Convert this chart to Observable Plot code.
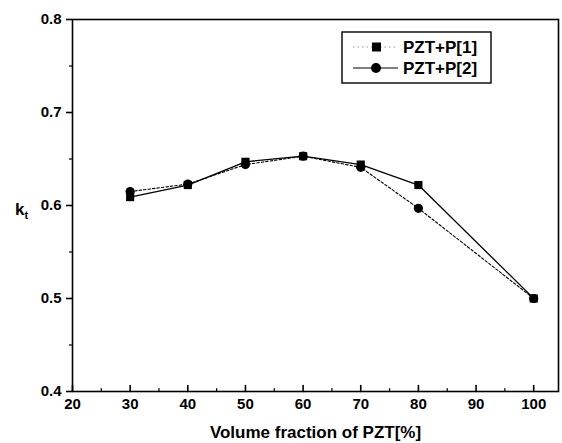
<!DOCTYPE html>
<html>
<head>
<meta charset="utf-8">
<script src="https://cdn.jsdelivr.net/npm/d3@7"></script>
<script src="https://cdn.jsdelivr.net/npm/@observablehq/plot@0.6"></script>
<style>
  body { margin: 0; background: #fff; }
  #wrap { position: relative; width: 562px; height: 443px; font-family: "Liberation Sans", Arial, sans-serif; }
  #kt { position: absolute; left: 15px; top: 200px; font-size: 17px; font-weight: bold; }
  #kt sub { font-size: 11px; }
  #legend { position: absolute; left: 0; top: 0; }
</style>
</head>
<body>
<div id="wrap">
  <div id="kt">k<sub>t</sub></div>
</div>
<script>
const fractions = [30, 40, 50, 60, 70, 80, 100];
const seriesP1 = [0.609, 0.622, 0.647, 0.653, 0.644, 0.622, 0.500]; // squares
const seriesP2 = [0.615, 0.623, 0.644, 0.653, 0.641, 0.597, 0.500]; // circles
const seriesNames = ["PZT+P[1]", "PZT+P[2]"];
const xMajorTicks = [20, 30, 40, 50, 60, 70, 80, 90, 100];
const xMinorTicks = [25, 35, 45, 55, 65, 75, 85, 95];
const yMajorTicks = [0.4, 0.5, 0.6, 0.7, 0.8];
const yMinorTicks = [0.45, 0.55, 0.65, 0.75];

const d1 = fractions.map((x, i) => ({x, y: seriesP1[i]}));
const d2 = fractions.map((x, i) => ({x, y: seriesP2[i]}));

const tickShape = { draw(context, l) { context.moveTo(0, 0); context.lineTo(0, -l); } };

const chart = Plot.plot({
  width: 562,
  height: 443,
  marginLeft: 72,
  marginRight: 4,
  marginTop: 19,
  marginBottom: 52,
  x: { domain: [20, 104.3] },
  y: { domain: [0.4, 0.8] },
  style: { fontFamily: "'Liberation Sans', Arial, sans-serif", fontSize: "15px", fontWeight: "bold", color: "#000", background: "#fff" },
  marks: [
    Plot.frame({ stroke: "#000", strokeWidth: 1.6 }),
    Plot.axisY(yMajorTicks, { tickSize: 6, tickPadding: 5, tickFormat: d3.format(".1f"), label: null, strokeWidth: 1.6, fontSize: 15 }),
    Plot.axisY(yMinorTicks, { tickSize: 3, tickFormat: () => "", label: null, strokeWidth: 1.2 }),
    Plot.axisX(xMajorTicks, { tickSize: 0, tickPadding: 7, tickFormat: d => String(d), label: null, fontSize: 15 }),
    Plot.axisX({ ticks: [], tickSize: 0, label: "Volume fraction of PZT[%]", labelAnchor: "center", labelArrow: "none", labelOffset: 46, fontSize: 17 }),
    Plot.vector(xMajorTicks, { x: d => d, frameAnchor: "bottom", length: 6, rotate: 0, anchor: "start", shape: tickShape, stroke: "#000", strokeWidth: 1.6 }),
    Plot.vector(xMinorTicks, { x: d => d, frameAnchor: "bottom", length: 3, rotate: 0, anchor: "start", shape: tickShape, stroke: "#000", strokeWidth: 1.2 }),
    Plot.line(d2, { x: "x", y: "y", stroke: "#000", strokeWidth: 1.1, strokeDasharray: "2.5,2" }),
    Plot.line(d1, { x: "x", y: "y", stroke: "#000", strokeWidth: 1.3 }),
    Plot.dot(d2, { x: "x", y: "y", symbol: "circle", r: 4.6, fill: "#000" }),
    Plot.dot(d1, { x: "x", y: "y", symbol: "square", r: 4.6, fill: "#000" })
  ]
});
document.getElementById("wrap").appendChild(chart);

// legend
const lg = d3.create("svg").attr("id", "legend").attr("width", 562).attr("height", 443)
  .style("position", "absolute").style("left", "0px").style("top", "0px");
lg.append("rect").attr("x", 342).attr("y", 32).attr("width", 149).attr("height", 51)
  .attr("fill", "#fff").attr("stroke", "#000").attr("stroke-width", 1.4);
const rows = [
  { y: 47, name: seriesNames[0], dash: "1.5,3", sym: "square" },
  { y: 68, name: seriesNames[1], dash: null, sym: "circle" }
];
rows.forEach(r => {
  const ln = lg.append("line").attr("x1", 353).attr("x2", 398).attr("y1", r.y).attr("y2", r.y)
    .attr("stroke", r.dash ? "#999" : "#000").attr("stroke-width", 1.1);
  if (r.dash) ln.attr("stroke-dasharray", r.dash);
  if (r.sym === "square") lg.append("rect").attr("x", 372).attr("y", r.y - 4.5).attr("width", 9).attr("height", 9).attr("fill", "#000");
  else lg.append("circle").attr("cx", 376).attr("cy", r.y).attr("r", 5).attr("fill", "#000");
  lg.append("text").attr("x", 403).attr("y", r.y).attr("dy", "0.35em")
    .attr("font-family", "'Liberation Sans', Arial, sans-serif").attr("font-size", 17).attr("font-weight", "bold")
    .text(r.name);
});
document.getElementById("wrap").appendChild(lg.node());
</script>
</body>
</html>
